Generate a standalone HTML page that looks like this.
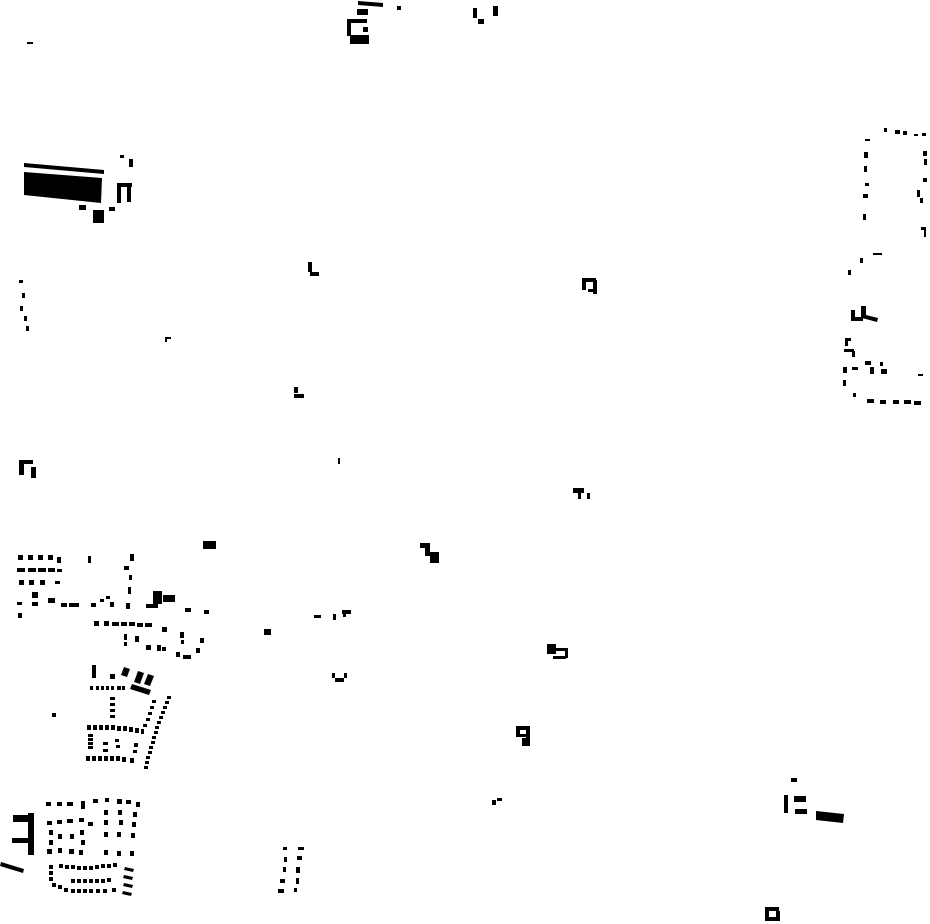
<!DOCTYPE html>
<html><head><meta charset="utf-8"><style>html,body{margin:0;padding:0;background:#fff}svg{display:block}</style></head>
<body>
<svg width="930" height="924" viewBox="0 0 930 924" xmlns="http://www.w3.org/2000/svg" fill="#000">
<!-- top -->
<polygon points="358,1 383,3 383,7 358,5"/>
<rect x="357" y="9" width="11" height="6"/>
<rect x="347" y="19" width="20" height="4"/><rect x="347" y="19" width="4" height="17"/>
<rect x="363" y="27" width="5" height="5"/>
<rect x="350" y="35" width="19" height="9"/>
<rect x="397" y="6" width="4" height="4"/>
<rect x="473" y="8" width="4" height="10"/><rect x="478" y="19" width="6" height="5"/><rect x="493" y="6" width="5" height="10"/>
<rect x="27" y="42" width="6" height="2"/>
<!-- top-left big -->
<polygon points="24,163 104,170 104,174 24,167"/>
<polygon points="24,172 102,178 101,203 24,195"/>
<rect x="95" y="183" width="4" height="8"/><rect x="95" y="194" width="4" height="6"/>
<rect x="117" y="184" width="4" height="19"/><rect x="117" y="183" width="15" height="4"/><rect x="127" y="184" width="4" height="18"/>
<rect x="93" y="210" width="11" height="13"/><rect x="79" y="205" width="7" height="5"/><rect x="109" y="207" width="6" height="4"/>
<rect x="120" y="155" width="4" height="3"/><rect x="129" y="159" width="4" height="8"/>
<!-- left column dots -->
<rect x="19" y="280" width="4" height="3"/><rect x="22" y="293" width="3" height="5"/><rect x="20" y="306" width="3" height="5"/><rect x="24" y="316" width="3" height="5"/><rect x="26" y="326" width="3" height="5"/>
<rect x="308" y="262" width="4" height="10"/><rect x="310" y="272" width="9" height="4"/>
<rect x="582" y="278" width="14" height="4"/><rect x="582" y="278" width="4" height="12"/><rect x="593" y="280" width="4" height="14"/><rect x="588" y="289" width="6" height="3"/>
<rect x="165" y="337" width="6" height="2"/><rect x="165" y="337" width="2" height="5"/>
<rect x="294" y="387" width="4" height="6"/><rect x="294" y="394" width="10" height="4"/>
<rect x="19" y="460" width="14" height="4"/><rect x="19" y="460" width="5" height="15"/><rect x="31" y="467" width="5" height="11"/>
<rect x="338" y="458" width="2" height="6"/>
<rect x="573" y="488" width="11" height="5"/><rect x="578" y="493" width="3" height="6"/><rect x="587" y="493" width="3" height="6"/>
<rect x="203" y="541" width="13" height="8"/>
<rect x="420" y="543" width="10" height="5"/><rect x="425" y="548" width="5" height="8"/><rect x="430" y="552" width="9" height="11"/>
<!-- right cluster -->
<rect x="884" y="128" width="3" height="4"/><rect x="895" y="130" width="5" height="4"/><rect x="903" y="131" width="4" height="4"/><rect x="914" y="134" width="4" height="2"/><rect x="922" y="133" width="4" height="3"/>
<rect x="865" y="139" width="5" height="2"/>
<rect x="864" y="152" width="4" height="6"/><rect x="864" y="166" width="3" height="6"/><rect x="865" y="183" width="4" height="3"/><rect x="863" y="194" width="5" height="4"/><rect x="863" y="214" width="3" height="6"/>
<rect x="923" y="151" width="4" height="5"/><rect x="924" y="159" width="3" height="6"/><rect x="923" y="178" width="4" height="4"/><rect x="917" y="190" width="3" height="7"/><rect x="920" y="198" width="3" height="5"/>
<rect x="921" y="227" width="5" height="3"/><rect x="924" y="230" width="2" height="7"/>
<rect x="873" y="253" width="9" height="2"/><rect x="860" y="258" width="3" height="5"/><rect x="848" y="270" width="3" height="5"/>
<rect x="851" y="317" width="12" height="4"/><rect x="851" y="310" width="4" height="10"/><rect x="861" y="306" width="5" height="12"/><polygon points="862,314 878,318 877,322 862,318"/>
<rect x="845" y="338" width="6" height="3"/><rect x="845" y="338" width="3" height="8"/><rect x="844" y="349" width="10" height="3"/><rect x="852" y="351" width="3" height="6"/>
<rect x="843" y="367" width="4" height="6"/><rect x="852" y="367" width="6" height="3"/><rect x="865" y="361" width="6" height="4"/><rect x="870" y="367" width="4" height="7"/><rect x="880" y="362" width="3" height="4"/><rect x="881" y="369" width="6" height="5"/>
<rect x="918" y="374" width="5" height="2"/><rect x="843" y="380" width="3" height="6"/><rect x="853" y="393" width="3" height="4"/>
<rect x="867" y="399" width="7" height="4"/><rect x="880" y="400" width="6" height="4"/><rect x="893" y="400" width="6" height="4"/><rect x="904" y="400" width="7" height="4"/><rect x="914" y="401" width="7" height="4"/>
<!-- middle scattered -->
<rect x="264" y="629" width="7" height="6"/>
<rect x="314" y="615" width="7" height="3"/><rect x="333" y="614" width="3" height="6"/><rect x="342" y="610" width="9" height="4"/><rect x="343" y="613" width="3" height="4"/>
<rect x="332" y="673" width="3" height="5"/><rect x="335" y="678" width="9" height="4"/><rect x="344" y="673" width="3" height="5"/>
<rect x="547" y="644" width="9" height="10"/><rect x="552" y="648" width="14" height="3"/><rect x="553" y="656" width="13" height="3"/><rect x="565" y="648" width="3" height="10"/>
<rect x="516" y="726" width="14" height="4"/><rect x="516" y="726" width="4" height="11"/><rect x="516" y="734" width="12" height="3"/><rect x="526" y="726" width="4" height="20"/><rect x="522" y="738" width="8" height="8"/>
<rect x="492" y="800" width="4" height="5"/><rect x="497" y="798" width="5" height="3"/>
<rect x="283" y="847" width="4" height="3"/><rect x="298" y="847" width="6" height="3"/><rect x="284" y="857" width="3" height="5"/><rect x="297" y="856" width="5" height="4"/><rect x="283" y="867" width="3" height="5"/><rect x="296" y="867" width="4" height="6"/><rect x="280" y="879" width="5" height="4"/><rect x="296" y="878" width="3" height="6"/><rect x="278" y="889" width="6" height="4"/><rect x="294" y="888" width="3" height="4"/>
<rect x="791" y="778" width="6" height="4"/><rect x="784" y="795" width="4" height="18"/><rect x="794" y="796" width="12" height="6"/><rect x="795" y="809" width="12" height="5"/><polygon points="816,811 844,814 843,823 816,820"/>
<rect x="765" y="907" width="14" height="4"/><rect x="765" y="907" width="4" height="14"/><rect x="765" y="917" width="15" height="4"/><rect x="776" y="911" width="4" height="10"/>
<!-- left dense cluster -->
<rect x="18" y="555" width="5" height="5"/><rect x="28" y="555" width="5" height="5"/><rect x="38" y="555" width="5" height="5"/><rect x="48" y="555" width="5" height="5"/><rect x="57" y="557" width="4" height="6"/>
<rect x="17" y="568" width="8" height="4"/><rect x="28" y="568" width="8" height="4"/><rect x="38" y="568" width="8" height="4"/><rect x="48" y="568" width="7" height="4"/><rect x="57" y="569" width="5" height="3"/>
<rect x="19" y="580" width="5" height="5"/><rect x="29" y="580" width="5" height="5"/><rect x="40" y="580" width="5" height="5"/><rect x="55" y="581" width="5" height="3"/>
<rect x="88" y="556" width="3" height="7"/><rect x="130" y="554" width="4" height="7"/><rect x="124" y="566" width="5" height="4"/><rect x="129" y="575" width="3" height="5"/><rect x="128" y="587" width="3" height="7"/><rect x="126" y="603" width="4" height="6"/>
<rect x="32" y="592" width="6" height="6"/><rect x="32" y="602" width="6" height="4"/><rect x="48" y="598" width="7" height="5"/>
<rect x="17" y="602" width="5" height="3"/><rect x="18" y="613" width="4" height="5"/>
<rect x="61" y="603" width="6" height="4"/><rect x="69" y="603" width="10" height="4"/><rect x="91" y="603" width="5" height="4"/>
<rect x="100" y="599" width="4" height="3"/><rect x="106" y="596" width="4" height="3"/><rect x="110" y="602" width="4" height="5"/>
<rect x="153" y="591" width="9" height="13"/><rect x="163" y="595" width="12" height="7"/><rect x="146" y="604" width="12" height="4"/>
<rect x="185" y="608" width="6" height="4"/><rect x="204" y="610" width="5" height="4"/>
<rect x="94" y="621" width="5" height="5"/><rect x="104" y="621" width="5" height="5"/><rect x="112" y="622" width="7" height="4"/><rect x="121" y="622" width="6" height="4"/><rect x="129" y="622" width="6" height="4"/><rect x="137" y="623" width="6" height="4"/><rect x="145" y="623" width="7" height="4"/>
<rect x="162" y="627" width="5" height="5"/><rect x="180" y="632" width="4" height="6"/><rect x="181" y="640" width="3" height="4"/><rect x="176" y="652" width="4" height="5"/><rect x="183" y="655" width="8" height="4"/><rect x="200" y="638" width="4" height="5"/><rect x="196" y="648" width="4" height="5"/>
<rect x="124" y="634" width="3" height="6"/><rect x="124" y="642" width="3" height="4"/><rect x="135" y="636" width="4" height="6"/><rect x="146" y="645" width="5" height="5"/><rect x="157" y="645" width="4" height="6"/><rect x="162" y="647" width="4" height="4"/>
<rect x="92" y="665" width="4" height="13"/><rect x="110" y="674" width="5" height="5"/>
<polygon points="124,667 130,669 127,677 121,675"/><polygon points="138,671 144,673 140,684 134,682"/><polygon points="148,674 154,676 150,686 144,684"/>
<rect x="90" y="686" width="3" height="4"/><rect x="96" y="686" width="3" height="4"/><rect x="101" y="686" width="3" height="4"/><rect x="106" y="686" width="3" height="4"/><rect x="111" y="686" width="3" height="4"/><rect x="117" y="686" width="4" height="4"/><rect x="122" y="686" width="3" height="4"/>
<polygon points="132,684 151,690 149,695 130,689"/>
<rect x="110" y="697" width="5" height="3"/><rect x="110" y="703" width="5" height="3"/><rect x="110" y="709" width="5" height="3"/><rect x="110" y="715" width="5" height="3"/>
<rect x="52" y="713" width="4" height="4"/>
<g>
<rect x="167" y="696" width="4" height="3"/><rect x="165" y="701" width="4" height="3"/><rect x="163" y="706" width="4" height="3"/><rect x="161" y="711" width="4" height="3"/><rect x="159" y="716" width="4" height="3"/><rect x="157" y="721" width="4" height="3"/><rect x="155" y="726" width="4" height="3"/><rect x="154" y="731" width="4" height="3"/><rect x="152" y="736" width="4" height="3"/><rect x="151" y="741" width="4" height="3"/><rect x="149" y="746" width="4" height="3"/><rect x="148" y="751" width="4" height="3"/><rect x="146" y="756" width="4" height="3"/><rect x="145" y="761" width="4" height="3"/><rect x="144" y="766" width="4" height="3"/>
<rect x="152" y="700" width="4" height="3"/><rect x="150" y="706" width="4" height="3"/><rect x="148" y="712" width="4" height="3"/><rect x="146" y="718" width="4" height="3"/><rect x="143" y="724" width="4" height="3"/>
</g>
<rect x="87" y="725" width="4" height="5"/><rect x="93" y="725" width="4" height="5"/><rect x="99" y="725" width="4" height="5"/><rect x="105" y="725" width="4" height="5"/><rect x="111" y="725" width="4" height="5"/><rect x="117" y="726" width="4" height="5"/><rect x="123" y="726" width="4" height="5"/><rect x="129" y="727" width="4" height="5"/><rect x="135" y="728" width="4" height="5"/><rect x="141" y="729" width="3" height="5"/>
<rect x="88" y="734" width="5" height="3"/><rect x="88" y="738" width="5" height="3"/><rect x="88" y="742" width="5" height="3"/><rect x="88" y="746" width="5" height="3"/>
<rect x="103" y="742" width="5" height="3"/><rect x="103" y="749" width="5" height="3"/><rect x="115" y="739" width="4" height="3"/><rect x="116" y="745" width="4" height="3"/><rect x="134" y="743" width="4" height="4"/><rect x="133" y="750" width="4" height="3"/>
<rect x="86" y="756" width="4" height="5"/><rect x="92" y="756" width="4" height="5"/><rect x="98" y="756" width="4" height="5"/><rect x="104" y="756" width="4" height="5"/><rect x="110" y="756" width="4" height="5"/><rect x="116" y="756" width="4" height="5"/><rect x="122" y="757" width="4" height="5"/><rect x="130" y="758" width="4" height="5"/>
<!-- bottom-left E and blocks -->
<rect x="13" y="815" width="20" height="7"/><rect x="28" y="813" width="6" height="42"/><rect x="12" y="838" width="20" height="5"/>
<polygon points="1,862 24,869 23,873 0,866"/>
<g>
<rect x="46" y="802" width="5" height="4"/><rect x="57" y="802" width="5" height="4"/><rect x="67" y="802" width="6" height="4"/><rect x="81" y="801" width="4" height="8"/><rect x="93" y="799" width="5" height="4"/><rect x="105" y="798" width="4" height="4"/><rect x="117" y="799" width="5" height="5"/><rect x="126" y="800" width="5" height="4"/><rect x="136" y="802" width="4" height="5"/>
<rect x="47" y="821" width="5" height="4"/><rect x="57" y="820" width="5" height="4"/><rect x="67" y="819" width="6" height="4"/><rect x="79" y="818" width="5" height="4"/><rect x="88" y="822" width="5" height="4"/><rect x="104" y="810" width="4" height="5"/><rect x="118" y="810" width="4" height="5"/><rect x="133" y="812" width="4" height="5"/>
<rect x="104" y="820" width="4" height="5"/><rect x="119" y="820" width="4" height="5"/><rect x="132" y="822" width="4" height="5"/>
<rect x="49" y="830" width="4" height="5"/><rect x="58" y="834" width="4" height="5"/><rect x="70" y="834" width="4" height="5"/><rect x="80" y="830" width="4" height="5"/><rect x="104" y="832" width="4" height="5"/><rect x="117" y="832" width="4" height="5"/><rect x="131" y="833" width="4" height="5"/>
<rect x="49" y="840" width="4" height="5"/><rect x="81" y="840" width="4" height="5"/>
<rect x="47" y="849" width="5" height="5"/><rect x="58" y="848" width="4" height="5"/><rect x="69" y="849" width="5" height="5"/><rect x="79" y="850" width="4" height="5"/><rect x="104" y="850" width="4" height="5"/><rect x="117" y="851" width="4" height="5"/><rect x="130" y="851" width="4" height="5"/>
<rect x="49" y="865" width="4" height="4"/><rect x="59" y="864" width="4" height="4"/><rect x="65" y="865" width="4" height="4"/><rect x="71" y="865" width="4" height="4"/><rect x="77" y="866" width="4" height="4"/><rect x="83" y="866" width="4" height="4"/><rect x="89" y="866" width="4" height="4"/><rect x="95" y="865" width="4" height="4"/><rect x="101" y="864" width="4" height="4"/><rect x="107" y="864" width="4" height="4"/><rect x="113" y="863" width="4" height="4"/>
<rect x="49" y="871" width="4" height="4"/><rect x="49" y="877" width="4" height="4"/><rect x="52" y="883" width="4" height="4"/><rect x="58" y="885" width="4" height="4"/><rect x="64" y="888" width="4" height="4"/>
<rect x="71" y="879" width="4" height="4"/><rect x="77" y="879" width="4" height="4"/><rect x="83" y="879" width="4" height="4"/><rect x="89" y="879" width="4" height="4"/><rect x="95" y="879" width="4" height="4"/><rect x="101" y="879" width="4" height="4"/><rect x="107" y="878" width="4" height="4"/>
<rect x="71" y="889" width="4" height="4"/><rect x="77" y="889" width="4" height="4"/><rect x="83" y="889" width="4" height="4"/><rect x="89" y="889" width="4" height="4"/><rect x="96" y="889" width="4" height="4"/><rect x="103" y="889" width="4" height="4"/><rect x="112" y="888" width="4" height="4"/>
<polygon points="125,867 134,869 133,872 124,870"/><polygon points="124,875 133,877 132,880 123,878"/><polygon points="124,883 133,885 132,888 123,886"/><polygon points="123,891 132,893 131,896 122,894"/>
</g>
</svg>
</body></html>
